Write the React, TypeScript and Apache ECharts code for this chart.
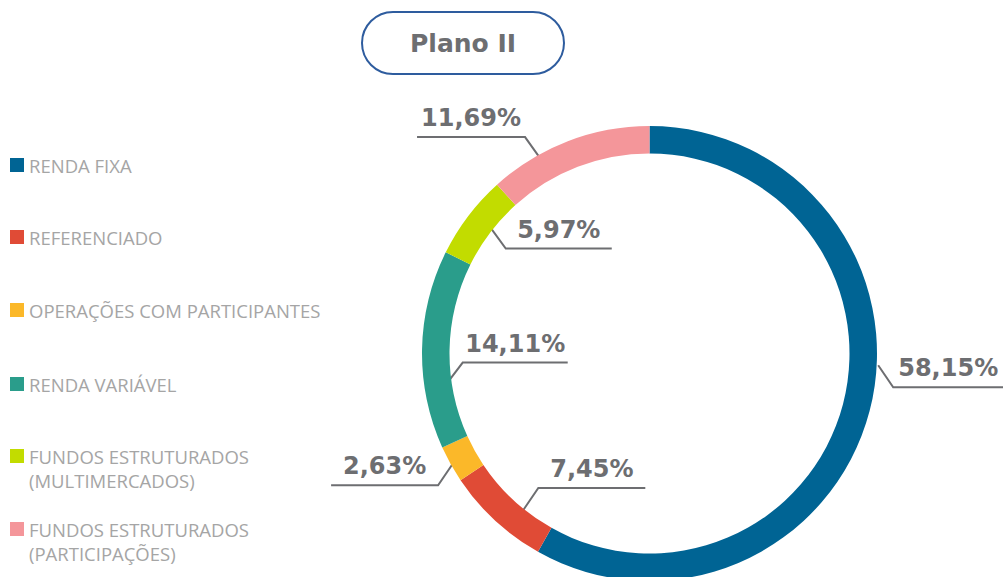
import React, { useEffect, useRef } from 'react';
import * as echarts from 'echarts';

// ---- Data ----
const CATEGORIES = [
  'RENDA FIXA',
  'REFERENCIADO',
  'OPERAÇÕES COM PARTICIPANTES',
  'RENDA VARIÁVEL',
  'FUNDOS ESTRUTURADOS\n(MULTIMERCADOS)',
  'FUNDOS ESTRUTURADOS\n(PARTICIPAÇÕES)',
];
const VALUES = [58.15, 7.45, 2.63, 14.11, 5.97, 11.69];
const TITLE = 'Plano II';

// ---- Styles / layout ----
const COLORS = ['#006494', '#E04B36', '#FBB829', '#2A9D8B', '#C2DC00', '#F4969A'];
const CENTER = [649.5, 353.5];
const RADII = [200, 227.5];
// label anchor: t = position within the slice (0..1), r = radius of anchor,
// dx/dy = elbow offset, len = horizontal segment length (signed)
const LABEL_PLACEMENT = [
  { t: 0.444, r: 229, dx: 15, dy: 22, len: 110 },
  { t: 0.356, r: 201, dx: 15, dy: -22, len: 107 },
  { t: 0.49, r: 225, dx: -15, dy: 22, len: -107 },
  { t: 0.314, r: 205, dx: 16, dy: -21, len: 105 },
  { t: 0.56, r: 204, dx: 16, dy: 22, len: 106 },
  { t: 0.305, r: 224, dx: -15, dy: -21, len: -108 },
];
const LEGEND_TOPS = [153, 225, 298, 372, 420, 493];

const fmt = (v: number) => v.toFixed(2).replace('.', ',') + '%';

export default function App() {
  const ref = useRef<HTMLDivElement>(null);

  useEffect(() => {
    if (!ref.current) return;
    const chart = echarts.init(ref.current, undefined, { renderer: 'svg' });
    const total = VALUES.reduce((a, b) => a + b, 0);

    const legends = CATEGORIES.map((name, i) => {
      const multi = name.indexOf('\n') >= 0;
      return {
        data: [name],
        left: 10,
        top: LEGEND_TOPS[i],
        orient: 'vertical',
        padding: 0,
        itemWidth: 14,
        itemHeight: 14,
        itemGap: 0,
        icon: 'rect',
        selectedMode: false,
        // an empty leading line keeps the first text line level with the icon
        formatter: (n: string) => (multi ? '\n' + n : n),
        textStyle: {
          color: '#A5A5A5',
          fontSize: 18.5,
          fontFamily: 'Open Sans',
          lineHeight: 24,
        },
      };
    });

    chart.setOption({
      animation: false,
      color: COLORS,
      title: {
        text: TITLE,
        left: 362,
        top: 12,
        padding: [17, 48],
        borderColor: '#2E5C9E',
        borderWidth: 2,
        borderRadius: 31,
        backgroundColor: '#ffffff',
        textStyle: {
          color: '#6D6E71',
          fontSize: 25,
          fontWeight: 'bold',
          fontFamily: 'DejaVu Sans',
          lineHeight: 28,
        },
      },
      legend: legends,
      series: [
        {
          type: 'pie',
          center: CENTER,
          radius: RADII,
          startAngle: 90,
          clockwise: true,
          avoidLabelOverlap: false,
          itemStyle: { borderWidth: 0 },
          emphasis: { disabled: true },
          label: {
            show: true,
            position: 'outside',
            formatter: (p: any) => fmt(p.value),
            color: '#6D6E71',
            fontSize: 24,
            fontWeight: 'bold',
            fontFamily: 'DejaVu Sans',
          },
          labelLine: {
            show: true,
            length: 10,
            length2: 10,
            smooth: false,
            lineStyle: { color: '#6D6E71', width: 2 },
          },
          labelLayout: (params: any) => {
            const i = params.dataIndex;
            const p = LABEL_PLACEMENT[i];
            let start = 0;
            for (let j = 0; j < i; j++) start += VALUES[j];
            const ang = ((start + p.t * VALUES[i]) / total) * 2 * Math.PI;
            const ax = CENTER[0] + p.r * Math.sin(ang);
            const ay = CENTER[1] - p.r * Math.cos(ang);
            const ex = ax + p.dx;
            const ey = ay + p.dy;
            const hx = ex + p.len;
            return {
              x: (ex + hx) / 2,
              y: ey - 19,
              align: 'center',
              verticalAlign: 'middle',
              labelLinePoints: [
                [ax, ay],
                [ex, ey],
                [hx, ey],
              ],
            };
          },
          data: CATEGORIES.map((name, i) => ({ name, value: VALUES[i] })),
        },
      ],
    });

    return () => chart.dispose();
  }, []);

  return (
    <div
      ref={ref}
      style={{ position: 'absolute', left: 0, top: 0, width: 1003, height: 577, background: '#ffffff' }}
    />
  );
}
